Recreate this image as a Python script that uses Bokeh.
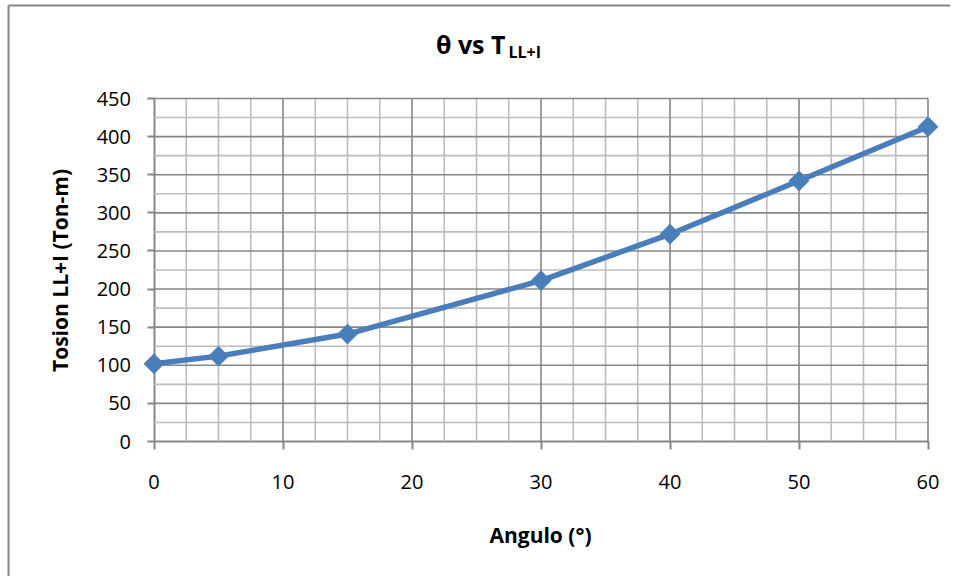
import numpy as np
from bokeh.plotting import figure
from bokeh.models import Range1d, FixedTicker, Label
from bokeh.embed import file_html
from bokeh.resources import INLINE

# ---- data ----
angles = [0, 5, 15, 30, 40, 50, 60]
torsion = [102, 112, 141, 211, 272, 342, 413]

x_major_ticks = [0, 10, 20, 30, 40, 50, 60]
y_major_ticks = [0, 50, 100, 150, 200, 250, 300, 350, 400, 450]
x_minor_per_major = 4
y_minor_per_major = 2

title_main = "θ vs T"
title_sub = "LL+I"
x_title = "Angulo (°)"
y_title = "Tosion LL+I (Ton-m)"

# ---- derived grid positions ----
def minor_positions(ticks, n):
    out = []
    for a, b in zip(ticks[:-1], ticks[1:]):
        out.extend(np.linspace(a, b, n + 1)[1:-1].tolist())
    return out

x_minor = minor_positions(x_major_ticks, x_minor_per_major)
y_minor = minor_positions(y_major_ticks, y_minor_per_major)

# ---- layout (pixels) ----
W, H = 950, 576
PX_X0, PX_X1 = 153.5, 927.5     # pixel of first / last x tick
PX_Y0, PX_Y1 = 441.0, 98.0      # pixel of first / last y tick
sx = (PX_X1 - PX_X0) / (x_major_ticks[-1] - x_major_ticks[0])
sy = (PX_Y0 - PX_Y1) / (y_major_ticks[-1] - y_major_ticks[0])

def px2x(px):
    return x_major_ticks[0] + (px - PX_X0) / sx

def px2y(py):
    return y_major_ticks[0] + (PX_Y0 - py) / sy

FONT = "Open Sans"
AXIS_COLOR = "#868686"
MINOR_COLOR = "#bcbcbc"
SERIES_COLOR = "#4a7ebb"

p = figure(
    width=W, height=H,
    min_border_left=0, min_border_right=0, min_border_top=0, min_border_bottom=0,
    x_range=Range1d(px2x(0), px2x(W)),
    y_range=Range1d(px2y(H), px2y(0)),
    output_backend="svg", toolbar_location=None,
)
p.title.visible = False
p.outline_line_color = None
p.background_fill_color = "white"
p.border_fill_color = "white"
p.xgrid.visible = False
p.ygrid.visible = False

ymin, ymax = y_major_ticks[0], y_major_ticks[-1]
xmin, xmax = x_major_ticks[0], x_major_ticks[-1]

# chart area border (left and top edges visible)
p.segment(x0=[px2x(8), px2x(8)], y0=[px2y(5), px2y(5)],
          x1=[px2x(8), px2x(W + 10)], y1=[px2y(H + 10), px2y(5)],
          line_color=AXIS_COLOR, line_width=2)

# minor grid
p.segment(x0=x_minor, y0=[ymin] * len(x_minor), x1=x_minor, y1=[ymax] * len(x_minor),
          line_color=MINOR_COLOR, line_width=1.6)
p.segment(x0=[xmin] * len(y_minor), y0=y_minor, x1=[xmax] * len(y_minor), y1=y_minor,
          line_color=MINOR_COLOR, line_width=1.6)
# major grid (axis positions are drawn by the axes)
xg = x_major_ticks[1:]
yg = y_major_ticks[1:]
p.segment(x0=xg, y0=[ymin] * len(xg), x1=xg, y1=[ymax] * len(xg),
          line_color=AXIS_COLOR, line_width=1.6)
p.segment(x0=[xmin] * len(yg), y0=yg, x1=[xmax] * len(yg), y1=yg,
          line_color=AXIS_COLOR, line_width=1.6)

# axes
for ax in (p.xaxis[0], p.yaxis[0]):
    ax.axis_line_color = AXIS_COLOR
    ax.axis_line_width = 2
    ax.major_tick_line_color = AXIS_COLOR
    ax.major_tick_line_width = 2
    ax.major_tick_in = 0
    ax.minor_tick_in = 0
    ax.minor_tick_out = 0
    ax.major_label_text_font = FONT
    ax.major_label_text_font_size = "20px"
    ax.major_label_text_color = "black"
    ax.level = "underlay"

p.xaxis.fixed_location = ymin
p.xaxis.bounds = (xmin, xmax)
p.xaxis.ticker = FixedTicker(ticks=x_major_ticks, minor_ticks=[])
p.xaxis.major_tick_out = 8
p.xaxis.major_label_standoff = 25

p.yaxis.fixed_location = xmin
p.yaxis.bounds = (ymin, ymax)
p.yaxis.ticker = FixedTicker(ticks=y_major_ticks, minor_ticks=[])
p.yaxis.major_tick_out = 7
p.yaxis.major_label_standoff = 16

# series
p.line(angles, torsion, line_color=SERIES_COLOR, line_width=5.5)
p.scatter(angles, torsion, marker="square", angle=np.pi / 4, size=14,
          fill_color=SERIES_COLOR, line_color=SERIES_COLOR, line_width=1)

# axis titles
p.add_layout(Label(x=px2x(540), y=px2y(534), text=x_title, text_align="center",
                   text_baseline="alphabetic", text_font=FONT, text_font_size="21px",
                   text_font_style="bold", text_color="black"))
p.add_layout(Label(x=px2x(59), y=px2y(270), text=y_title, text_align="center", angle=np.pi / 2,
                   text_baseline="alphabetic", text_font=FONT, text_font_size="21px",
                   text_font_style="bold", text_color="black"))

# title with subscript
p.add_layout(Label(x=px2x(506), y=px2y(43), text=title_main, text_align="right", x_offset=-1,
                   text_baseline="alphabetic", text_font=FONT, text_font_size="25px",
                   text_font_style="bold", text_color="black"))
p.add_layout(Label(x=px2x(506), y=px2y(51.5), text=title_sub, text_align="left", x_offset=2,
                   text_baseline="alphabetic", text_font=FONT, text_font_size="16px",
                   text_font_style="bold", text_color="black"))

open("out.html", "w").write(file_html(p, INLINE))
